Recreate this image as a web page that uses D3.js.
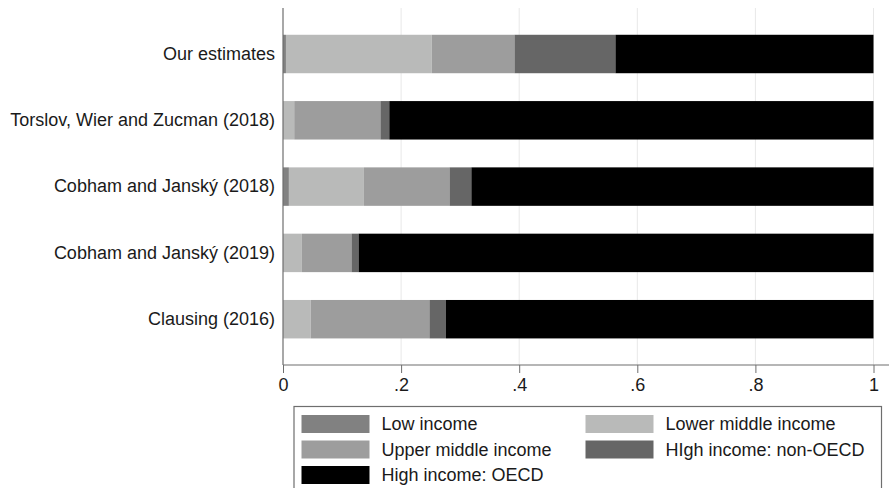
<!DOCTYPE html>
<html>
<head>
<meta charset="utf-8">
<script src="https://cdn.jsdelivr.net/npm/d3@7"></script>
<style>
  html, body { margin: 0; padding: 0; background: #fff; }
  svg { display: block; font-family: "Liberation Sans", Arial, sans-serif; }
</style>
</head>
<body>
<svg id="chart" width="890" height="488"></svg>
<script>
// Studies compared (top to bottom)
const categories = [
  "Our estimates",
  "Torslov, Wier and Zucman (2018)",
  "Cobham and Janský (2018)",
  "Cobham and Janský (2019)",
  "Clausing (2016)"
];

// Income groups, in stacking order
const groups = [
  "Low income",
  "Lower middle income",
  "Upper middle income",
  "HIgh income: non-OECD",
  "High income: OECD"
];

// Share of each study's total falling in each income group
const lowIncome        = [0.005, 0.000, 0.010, 0.000, 0.000];
const lowerMiddle      = [0.247, 0.019, 0.127, 0.032, 0.047];
const upperMiddle      = [0.140, 0.146, 0.145, 0.084, 0.201];
const highNonOECD      = [0.171, 0.015, 0.037, 0.012, 0.028];
const highOECD         = [0.437, 0.820, 0.681, 0.872, 0.724];

const xTicks = [0, 0.2, 0.4, 0.6, 0.8, 1];
const xTickLabels = ["0", ".2", ".4", ".6", ".8", "1"];

const colors = ["#818181", "#b9bab9", "#9d9d9d", "#666666", "#000000"];

const seriesValues = [lowIncome, lowerMiddle, upperMiddle, highNonOECD, highOECD];
const rows = categories.map((c, i) => {
  const r = { study: c };
  groups.forEach((g, j) => { r[g] = seriesValues[j][i]; });
  return r;
});

const svg = d3.select("#chart");

const plotTop = 8, plotBottom = 365, axisX = 283, plotRight = 889;

const x = d3.scaleLinear().domain([0, 1]).range([283, 873.5]);
const y = d3.scaleBand()
  .domain(categories)
  .range([20.85, 352.35])
  .paddingInner(0.42)
  .paddingOuter(0.21);
const color = d3.scaleOrdinal().domain(groups).range(colors);

// vertical grid lines
svg.append("g")
  .selectAll("line")
  .data(xTicks.filter(t => t > 0))
  .join("line")
  .attr("x1", d => x(d)).attr("x2", d => x(d))
  .attr("y1", plotTop).attr("y2", plotBottom)
  .attr("stroke", "#e8e8e8")
  .attr("stroke-width", 1);

// stacked bars
const stacked = d3.stack().keys(groups)(rows);
svg.append("g")
  .selectAll("g")
  .data(stacked)
  .join("g")
  .attr("fill", d => color(d.key))
  .selectAll("rect")
  .data(d => d)
  .join("rect")
  .attr("x", d => x(d[0]))
  .attr("width", d => Math.max(0, x(d[1]) - x(d[0])))
  .attr("y", d => y(d.data.study))
  .attr("height", y.bandwidth());

// x axis
const xAxis = d3.axisBottom(x)
  .tickValues(xTicks)
  .tickFormat((d, i) => xTickLabels[i])
  .tickSize(8)
  .tickPadding(5);
const gx = svg.append("g")
  .attr("transform", `translate(0,${plotBottom})`)
  .call(xAxis);
gx.select(".domain").remove();
gx.append("line")
  .attr("x1", axisX).attr("x2", plotRight)
  .attr("stroke", "#6e6e6e").attr("stroke-width", 1.2);
gx.selectAll(".tick line").attr("stroke", "#6e6e6e");
gx.selectAll(".tick text")
  .attr("fill", "#1a1a1a")
  .style("font-size", "18px")
  .style("font-family", "\"Liberation Sans\", Arial, sans-serif");

// y axis (labels only, plus the axis line)
const yAxis = d3.axisLeft(y).tickSize(0).tickPadding(8);
const gy = svg.append("g")
  .attr("transform", `translate(${axisX},0)`)
  .call(yAxis);
gy.select(".domain").remove();
gy.append("line")
  .attr("y1", plotTop).attr("y2", plotBottom)
  .attr("stroke", "#6e6e6e").attr("stroke-width", 1.2);
gy.selectAll(".tick text")
  .attr("fill", "#1a1a1a")
  .style("font-size", "18px")
  .style("font-family", "\"Liberation Sans\", Arial, sans-serif");

// legend
const legend = svg.append("g");
legend.append("rect")
  .attr("x", 294).attr("y", 406.5)
  .attr("width", 587.5).attr("height", 90)
  .attr("fill", "#fff")
  .attr("stroke", "#6e6e6e").attr("stroke-width", 1.2);

const legendCols = [301.5, 585.5];
const legendRows = [415, 440.5, 466];
const legendItems = groups.map((g, i) => ({
  key: g,
  col: i % 2,
  row: Math.floor(i / 2)
}));
const li = legend.selectAll("g.item")
  .data(legendItems)
  .join("g")
  .attr("class", "item")
  .attr("transform", d => `translate(${legendCols[d.col]},${legendRows[d.row]})`);
li.append("rect")
  .attr("width", 68).attr("height", 18)
  .attr("fill", d => color(d.key));
li.append("text")
  .attr("x", 80).attr("y", 9)
  .attr("dy", "0.35em")
  .attr("fill", "#1a1a1a")
  .style("font-size", "18px")
  .text(d => d.key);
</script>
</body>
</html>
